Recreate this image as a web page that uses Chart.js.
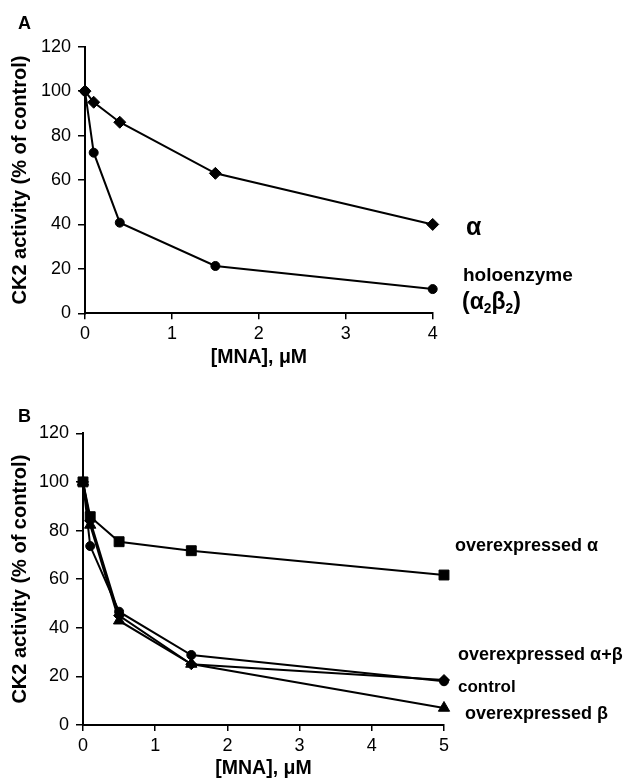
<!DOCTYPE html>
<html>
<head>
<meta charset="utf-8">
<script src="https://cdn.jsdelivr.net/npm/chart.js@4.4.1/dist/chart.umd.min.js"></script>
<style>
  html, body { margin: 0; padding: 0; background: #fff; overflow: hidden; }
  #wrap { position: relative; width: 633px; height: 780px; }
  #panelA { position: absolute; left: 0; top: 0; }
  #panelB { position: absolute; left: 0; top: 390px; }
</style>
</head>
<body>
<div id="wrap">
  <canvas id="panelA" width="633" height="390"></canvas>
  <canvas id="panelB" width="633" height="390"></canvas>
</div>
<script>
// panel A: purified enzyme
const mnaA = [0, 0.1, 0.4, 1.5, 4];
const alphaA = [100, 95, 86, 63, 40];
const holoA = [100, 72.3, 40.8, 21.3, 10.9];

// panel B: cells
const mnaB = [0, 0.1, 0.5, 1.5, 5];
const overAlphaB = [100, 85.7, 75.4, 71.7, 61.7];
const overAlphaBetaB = [100, 84, 45, 25, 18.5];
const controlB = [100, 73.6, 46.6, 28.8, 18];
const overBetaB = [100, 82.3, 42.9, 25.1, 7];

const yTicks = [0, 20, 40, 60, 80, 100, 120];
const yTitle = 'CK2 activity (% of control)';
const xTitle = '[MNA], \u03bcM';

const FONT = '"Liberation Sans", Arial, Helvetica, sans-serif';

const toXY = (xs, ys) => xs.map((x, i) => ({ x: x, y: ys[i] }));

const series = (xs, ys, style, radius) => ({
  data: toXY(xs, ys),
  borderColor: '#000',
  backgroundColor: '#000',
  pointBackgroundColor: '#000',
  pointBorderColor: '#000',
  borderWidth: 2,
  pointStyle: style,
  pointRadius: radius,
  pointBorderWidth: 1,
  fill: false,
  tension: 0,
  clip: false,
});

// free text next to the curves, drawn on the canvas
const textPlugin = {
  id: 'freeText',
  afterDraw(chart) {
    const items = chart.options.plugins.freeText.items || [];
    const ctx = chart.ctx;
    ctx.save();
    ctx.fillStyle = '#000';
    ctx.textBaseline = 'middle';
    ctx.textAlign = 'left';
    items.forEach((it) => {
      let x = it.x;
      it.parts.forEach((p) => {
        const size = p.sub ? it.size * 0.6 : it.size;
        ctx.font = 'bold ' + size + 'px ' + FONT;
        ctx.fillText(p.t, x, it.y + (p.sub ? it.size * 0.28 : 0));
        x += ctx.measureText(p.t).width;
      });
    });
    ctx.restore();
  },
};

const makeConfig = (datasets, xMax, box, items) => ({
  type: 'line',
  data: { datasets },
  plugins: [textPlugin],
  options: {
    responsive: false,
    animation: false,
    layout: {
      padding: { left: 0, top: box.top, right: box.right, bottom: box.bottom },
    },
    plugins: {
      legend: { display: false },
      tooltip: { enabled: false },
      freeText: { items },
    },
    scales: {
      x: {
        type: 'linear',
        min: 0,
        max: xMax,
        afterFit(scale) { scale.height = box.xHeight; },
        border: { display: true, color: '#000', width: 2 },
        grid: { drawOnChartArea: false, drawTicks: true, tickLength: 6, color: '#000', lineWidth: 1.5 },
        ticks: { stepSize: 1, color: '#000', padding: 4, font: { family: FONT, size: 18 } },
        title: {
          display: true,
          text: xTitle,
          color: '#000',
          padding: { top: 0, bottom: 0 },
          font: { family: FONT, size: 19.5, weight: 'bold', lineHeight: 1.0 },
        },
      },
      y: {
        type: 'linear',
        min: 0,
        max: 120,
        afterFit(scale) { scale.width = box.left; },
        afterBuildTicks(scale) { scale.ticks = yTicks.map((v) => ({ value: v })); },
        border: { display: true, color: '#000', width: 2 },
        grid: { drawOnChartArea: false, drawTicks: true, tickLength: 7, color: '#000', lineWidth: 1.5 },
        ticks: { color: '#000', padding: 7, font: { family: FONT, size: 18 } },
        title: {
          display: true,
          text: yTitle,
          color: '#000',
          padding: { top: 10.5, bottom: 0 },
          font: { family: FONT, size: 20, weight: 'bold', lineHeight: 1.0 },
        },
      },
    },
  },
});

new Chart(document.getElementById('panelA'), makeConfig(
  [
    series(mnaA, holoA, 'circle', 4.5),
    series(mnaA, alphaA, 'rectRot', 6),
  ],
  4,
  { left: 85, top: 46.7, right: 200.3, bottom: 22.5, xHeight: 54.2 },
  [
    { x: 18, y: 24, size: 18, parts: [{ t: 'A' }] },
    { x: 466, y: 228, size: 25, parts: [{ t: '\u03b1' }] },
    { x: 463, y: 276, size: 19, parts: [{ t: 'holoenzyme' }] },
    { x: 462, y: 303, size: 23, parts: [{ t: '(\u03b1' }, { t: '2', sub: true }, { t: '\u03b2' }, { t: '2', sub: true }, { t: ')' }] },
  ]
));

new Chart(document.getElementById('panelB'), makeConfig(
  [
    series(mnaB, overBetaB, 'triangle', 6.5),
    series(mnaB, controlB, 'circle', 4.5),
    series(mnaB, overAlphaBetaB, 'rectRot', 5.5),
    series(mnaB, overAlphaB, 'rect', 7),
  ],
  5,
  { left: 83, top: 43.3, right: 189, bottom: 1.5, xHeight: 53.5 },
  [
    { x: 18, y: 27, size: 18, parts: [{ t: 'B' }] },
    { x: 455, y: 156, size: 18, parts: [{ t: 'overexpressed \u03b1' }] },
    { x: 458, y: 265.5, size: 18, parts: [{ t: 'overexpressed \u03b1+\u03b2' }] },
    { x: 458, y: 297, size: 17, parts: [{ t: 'control' }] },
    { x: 465, y: 324, size: 18, parts: [{ t: 'overexpressed \u03b2' }] },
  ]
));
</script>
</body>
</html>
